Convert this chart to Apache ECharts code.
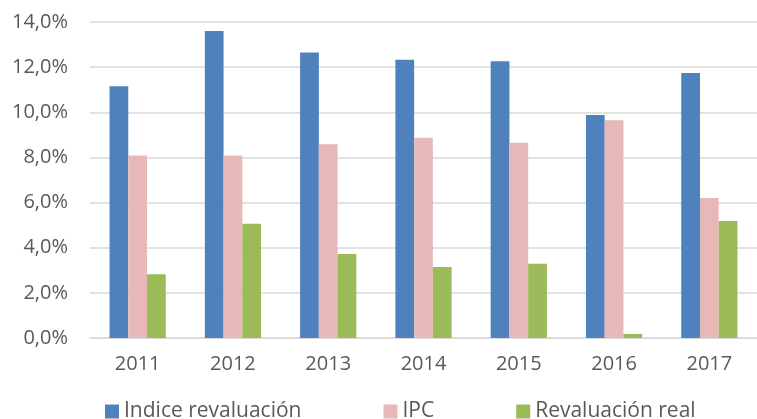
<!DOCTYPE html>
<html>
<head>
<meta charset="utf-8">
<script src="https://cdn.jsdelivr.net/npm/echarts@6/dist/echarts.min.js"></script>
<style>
html, body { margin: 0; padding: 0; background: #fff; }
#chart { width: 757px; height: 419px; }
</style>
</head>
<body>
<div id="chart"></div>
<script>
var years = ['2011', '2012', '2013', '2014', '2015', '2016', '2017'];
var indiceRevaluacion = [11.15, 13.6, 12.65, 12.33, 12.26, 9.88, 11.74];
var ipc = [8.08, 8.09, 8.58, 8.87, 8.65, 9.65, 6.2];
var revaluacionReal = [2.82, 5.06, 3.72, 3.15, 3.29, 0.18, 5.18];
var seriesNames = ['Indice revaluación', 'IPC', 'Revaluación real'];
var colors = ['#4F81BD', '#E6B9B8', '#9BBB59'];

var myChart = echarts.init(document.getElementById('chart'));

function pct(v) {
  return v.toFixed(1).replace('.', ',') + '%';
}

var font = '"Open Sans", sans-serif';

var option = {
  animation: false,
  color: colors,
  textStyle: { fontFamily: font },
  grid: { left: 90, right: 0, top: 22, bottom: 81 },
  legend: {
    left: 105,
    top: 401,
    padding: 0,
    itemWidth: 14,
    itemHeight: 14,
    itemGap: 82,
    icon: 'rect',
    textStyle: { fontSize: 21, color: '#595959', fontFamily: font },
    data: seriesNames
  },
  xAxis: {
    type: 'category',
    data: years,
    axisTick: { show: false },
    axisLine: { lineStyle: { color: '#D9D9D9', width: 1.5 } },
    axisLabel: { fontSize: 20, color: '#595959', margin: 16, fontFamily: font }
  },
  yAxis: {
    type: 'value',
    min: 0,
    max: 14,
    interval: 2,
    axisLine: { show: false },
    axisTick: { show: false },
    splitLine: { lineStyle: { color: '#D9D9D9', width: 1.5 } },
    axisLabel: { fontSize: 20, color: '#595959', margin: 22, formatter: pct, fontFamily: font }
  },
  series: [
    { name: seriesNames[0], type: 'bar', data: indiceRevaluacion, barGap: 0, barCategoryGap: '41%' },
    { name: seriesNames[1], type: 'bar', data: ipc, barGap: 0, barCategoryGap: '41%' },
    { name: seriesNames[2], type: 'bar', data: revaluacionReal, barGap: 0, barCategoryGap: '41%' }
  ]
};
myChart.setOption(option);
</script>
</body>
</html>
